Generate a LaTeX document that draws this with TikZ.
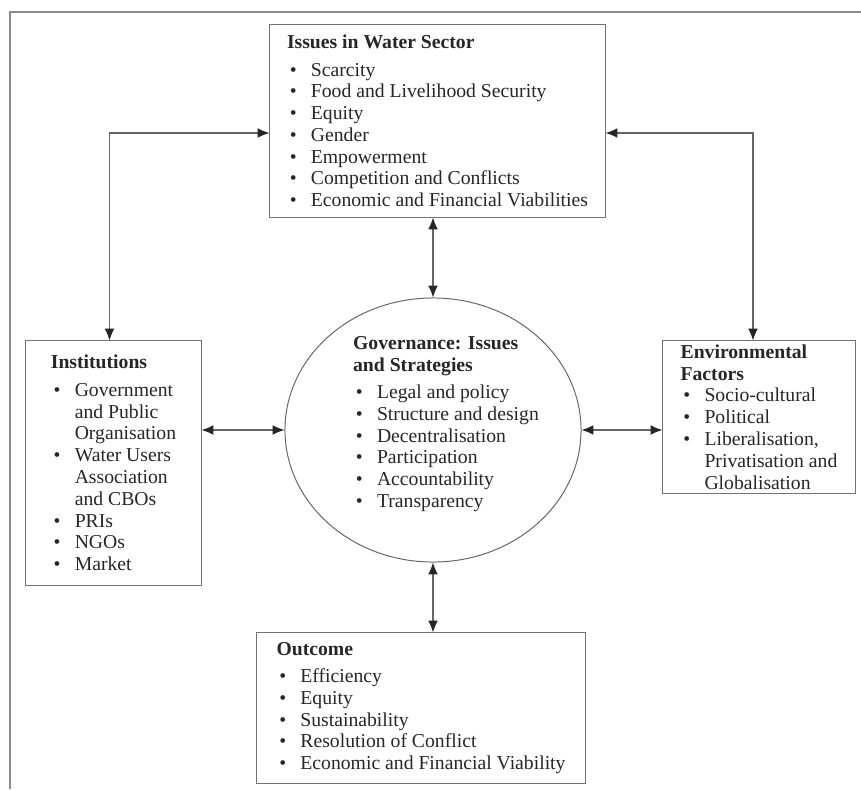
\documentclass[tikz,border=0pt]{standalone}
\usepackage{fontspec}
\setmainfont{Liberation Serif}
\usetikzlibrary{shapes.geometric, arrows.meta}

\newcommand{\itm}{\hspace*{2pt}\makebox[15pt][l]{\textbullet}}
\newcommand{\cnt}{\hspace*{17pt}}

\begin{document}
\begin{tikzpicture}[x=0.025cm, y=-0.025cm, >={Latex[length=8.5pt,width=7pt,color=black!85]},
  kasten/.style={draw=black!55, line width=0.7pt, align=left, font=\fontsize{14}{15.5}\selectfont, text=black!85},
  verb/.style={<->, draw=black!60, line width=0.8pt}]
  \useasboundingbox (0,0) rectangle (861,789);
  % frame
  \draw[black!45, line width=1.2pt] (10,789) -- (10,12) -- (861,12);

  \node[kasten, minimum width=8.375cm, minimum height=4.8cm] (issues) at (437.5,121)
    {\textbf{Issues in Water Sector}\\[4pt]
     \itm Scarcity\\
     \itm Food and Livelihood Security\\
     \itm Equity\\
     \itm Gender\\
     \itm Empowerment\\
     \itm Competition and Conflicts\\
     \itm Economic and Financial Viabilities};
  \node[kasten, minimum width=4.375cm, minimum height=6.1cm] (inst) at (113.5,463)
    {\textbf{Institutions}\\[4pt]
     \itm Government\\ \cnt and Public\\ \cnt Organisation\\
     \itm Water Users\\ \cnt Association\\ \cnt and CBOs\\
     \itm PRIs\\
     \itm NGOs\\
     \itm Market};
  \node[kasten, minimum width=4.8cm, minimum height=3.8cm, inner ysep=1pt] (env) at (759,417)
    {\textbf{Environmental}\\ \textbf{Factors}\\
     \itm Socio-cultural\\
     \itm Political\\
     \itm Liberalisation,\\ \cnt Privatisation and\\ \cnt Globalisation};
  \node[kasten, minimum width=8.2cm, minimum height=3.75cm] (outcome) at (421,708)
    {\textbf{Outcome}\\[4pt]
     \itm Efficiency\\
     \itm Equity\\
     \itm Sustainability\\
     \itm Resolution of Conflict\\
     \itm Economic and Financial Viability};

  \node[ellipse, draw=black!60, line width=0.7pt, minimum width=7.4cm, minimum height=6.6cm, inner sep=0pt] (gov) at (433,430) {};
  \node[align=left, font=\fontsize{14}{15.5}\selectfont, text=black!85] (govtxt) at (446,424)
    {\textbf{Governance: Issues}\\ \textbf{and Strategies}\\[4pt]
     \itm Legal and policy\\
     \itm Structure and design\\
     \itm Decentralisation\\
     \itm Participation\\
     \itm Accountability\\
     \itm Transparency};

  \draw[verb] ([yshift=-0.3cm]issues.west) -| ([xshift=-0.1cm]inst.north);
  \draw[verb] ([yshift=-0.3cm]issues.east) -| ([xshift=-0.15cm]env.north);
  \draw[verb] (gov.north) -- (gov.north |- issues.south);
  \draw[verb] (gov.west) -- (gov.west -| inst.east);
  \draw[verb] (gov.east) -- (gov.east -| env.west);
  \draw[verb] (gov.south) -- (gov.south |- outcome.north);
\end{tikzpicture}
\end{document}
